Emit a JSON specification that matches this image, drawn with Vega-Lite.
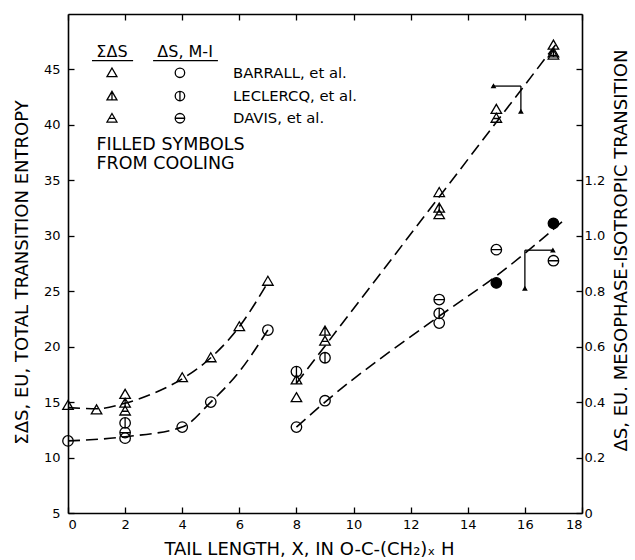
{
  "$schema": "https://vega.github.io/schema/vega-lite/v6.json",
  "width": 514,
  "height": 499,
  "padding": {"left": 13, "top": 13, "right": 2, "bottom": 2},
  "config": {
    "view": {"stroke": null},
    "font": "DejaVu Sans",
    "axis": {
      "grid": false,
      "domainColor": "black",
      "domainWidth": 1.6,
      "tickColor": "black",
      "tickWidth": 1.3,
      "labelColor": "black",
      "titleColor": "black",
      "labelFont": "DejaVu Sans",
      "titleFont": "DejaVu Sans",
      "titleFontWeight": "normal",
      "labelFontSize": 13,
      "titleFontSize": 18
    }
  },
  "datasets": {
    "triPts": [
      {"x": 0, "y": 14.7, "s": "t"},
      {"x": 1, "y": 14.3, "s": "t"},
      {"x": 2, "y": 15.7, "s": "t"},
      {"x": 2, "y": 14.9, "s": "tl"},
      {"x": 2, "y": 14.2, "s": "td"},
      {"x": 4, "y": 17.2, "s": "t"},
      {"x": 5, "y": 19.0, "s": "t"},
      {"x": 6, "y": 21.8, "s": "t"},
      {"x": 7, "y": 25.9, "s": "t"},
      {"x": 8, "y": 15.4, "s": "t"},
      {"x": 8, "y": 17.0, "s": "tl"},
      {"x": 9, "y": 21.4, "s": "tl"},
      {"x": 9, "y": 20.5, "s": "td"},
      {"x": 13, "y": 33.9, "s": "t"},
      {"x": 13, "y": 32.5, "s": "tl"},
      {"x": 13, "y": 31.9, "s": "td"},
      {"x": 15, "y": 41.4, "s": "t"},
      {"x": 15, "y": 40.6, "s": "td"},
      {"x": 17, "y": 47.2, "s": "t"},
      {"x": 17, "y": 46.5, "s": "tl"},
      {"x": 17, "y": 46.3, "s": "td"}
    ],
    "cirPts": [
      {"x": 0, "y": 0.26, "s": "c"},
      {"x": 2, "y": 0.27, "s": "c"},
      {"x": 2, "y": 0.29, "s": "cd"},
      {"x": 2, "y": 0.325, "s": "cl"},
      {"x": 4, "y": 0.31, "s": "c"},
      {"x": 5, "y": 0.40, "s": "c"},
      {"x": 7, "y": 0.66, "s": "c"},
      {"x": 8, "y": 0.31, "s": "c"},
      {"x": 8, "y": 0.51, "s": "cl"},
      {"x": 9, "y": 0.405, "s": "c"},
      {"x": 9, "y": 0.56, "s": "cl"},
      {"x": 13, "y": 0.685, "s": "c"},
      {"x": 13, "y": 0.72, "s": "cl"},
      {"x": 13, "y": 0.77, "s": "cd"},
      {"x": 15, "y": 0.95, "s": "cd"},
      {"x": 15, "y": 0.83, "s": "cf"},
      {"x": 17, "y": 0.91, "s": "cd"},
      {"x": 17, "y": 1.045, "s": "cf"}
    ],
    "triCurves": [
      {"seg": "a", "x": 0, "y": 14.5},
      {"seg": "a", "x": 1, "y": 14.4},
      {"seg": "a", "x": 2, "y": 14.9},
      {"seg": "a", "x": 3, "y": 15.8},
      {"seg": "a", "x": 4, "y": 17.1},
      {"seg": "a", "x": 5, "y": 19.0},
      {"seg": "a", "x": 6, "y": 21.8},
      {"seg": "a", "x": 7, "y": 25.8},
      {"seg": "b", "x": 8, "y": 16.7},
      {"seg": "b", "x": 17.1, "y": 47.3}
    ],
    "cirCurves": [
      {"seg": "a", "x": 0, "y": 0.26},
      {"seg": "a", "x": 2, "y": 0.275},
      {"seg": "a", "x": 4, "y": 0.31},
      {"seg": "a", "x": 5, "y": 0.40},
      {"seg": "a", "x": 6, "y": 0.51},
      {"seg": "a", "x": 7, "y": 0.66},
      {"seg": "b", "x": 8, "y": 0.31},
      {"seg": "b", "x": 9, "y": 0.40},
      {"seg": "b", "x": 13, "y": 0.71},
      {"seg": "b", "x": 15, "y": 0.855},
      {"seg": "b", "x": 17.3, "y": 1.05}
    ]
  },
  "layer": [
    {
      "encoding": {
        "x": {
          "field": "x", "type": "quantitative",
          "scale": {"domain": [0, 18], "nice": false, "zero": false},
          "axis": {
            "orient": "bottom",
            "values": [0, 2, 4, 6, 8, 10, 12, 14, 16, 18],
            "tickSize": -6, "labelPadding": 11,
            "title": "TAIL LENGTH, X, IN O-C-(CH₂)ₓ H",
            "titlePadding": 9,
            "titleX": 241
          }
        },
        "y": {
          "field": "y", "type": "quantitative",
          "scale": {"domain": [5, 50], "nice": false, "zero": false},
          "axis": {
            "orient": "left",
            "values": [5, 10, 15, 20, 25, 30, 35, 40, 45],
            "tickSize": -6, "labelPadding": 14,
            "title": "ΣΔS, EU, TOTAL TRANSITION ENTROPY",
            "titlePadding": 12,
            "titleY": 258
          }
        }
      },
      "layer": [
        {
          "data": {"name": "triCurves"},
          "mark": {"type": "line", "interpolate": "monotone", "color": "black", "strokeWidth": 1.6, "strokeDash": [12, 6]},
          "encoding": {"detail": {"field": "seg"}}
        },
        {
          "data": {"name": "triPts"},
          "mark": {"type": "point", "stroke": "black", "strokeWidth": 1.3, "size": 100, "opacity": 1},
          "encoding": {
            "shape": {
              "field": "s",
              "scale": {
                "domain": ["t", "tl", "td", "c", "cl", "cd", "cf"],
                "range": [
                  "M0,-1L1.05,0.8L-1.05,0.8Z",
                  "M0,-1L1.05,0.8L-1.05,0.8ZM0,-1L0,0.8",
                  "M0,-1L1.05,0.8L-1.05,0.8ZM-0.55,0.05L0.55,0.05",
                  "M-1,0A1,1,0,1,1,1,0A1,1,0,1,1,-1,0Z",
                  "M-1,0A1,1,0,1,1,1,0A1,1,0,1,1,-1,0ZM0,-1L0,1",
                  "M-1,0A1,1,0,1,1,1,0A1,1,0,1,1,-1,0ZM-1,0L1,0",
                  "M-1,0A1,1,0,1,1,1,0A1,1,0,1,1,-1,0Z"
                ]
              },
              "legend": null
            },
            "fill": {"condition": {"test": "datum.s === 'cf'", "value": "black"}, "value": "transparent"}
          }
        },
        {
          "data": {"values": [
            {"x": 1.54, "y": 44.7, "s": "t"},
            {"x": 1.54, "y": 42.6, "s": "tl"},
            {"x": 1.54, "y": 40.6, "s": "td"},
            {"x": 3.92, "y": 44.7, "s": "c"},
            {"x": 3.92, "y": 42.6, "s": "cl"},
            {"x": 3.92, "y": 40.6, "s": "cd"}
          ]},
          "mark": {"type": "point", "stroke": "black", "strokeWidth": 1.3, "size": 90, "opacity": 1},
          "encoding": {
            "shape": {
              "field": "s",
              "scale": {
                "domain": ["t", "tl", "td", "c", "cl", "cd", "cf"],
                "range": [
                  "M0,-1L1.05,0.8L-1.05,0.8Z",
                  "M0,-1L1.05,0.8L-1.05,0.8ZM0,-1L0,0.8",
                  "M0,-1L1.05,0.8L-1.05,0.8ZM-0.55,0.05L0.55,0.05",
                  "M-1,0A1,1,0,1,1,1,0A1,1,0,1,1,-1,0Z",
                  "M-1,0A1,1,0,1,1,1,0A1,1,0,1,1,-1,0ZM0,-1L0,1",
                  "M-1,0A1,1,0,1,1,1,0A1,1,0,1,1,-1,0ZM-1,0L1,0",
                  "M-1,0A1,1,0,1,1,1,0A1,1,0,1,1,-1,0Z"
                ]
              },
              "legend": null
            },
            "fill": {"value": "transparent"}
          }
        },
        {
          "data": {"values": [
            {"x": 1.54, "y": 46.6, "t": "ΣΔS"},
            {"x": 4.1, "y": 46.6, "t": "ΔS, M-I"}
          ]},
          "mark": {"type": "text", "align": "center", "baseline": "middle", "fontSize": 16, "color": "black"},
          "encoding": {"text": {"field": "t"}}
        },
        {
          "data": {"values": [
            {"x": 0.84, "x2": 2.28, "y": 45.8},
            {"x": 2.98, "x2": 5.25, "y": 45.8}
          ]},
          "mark": {"type": "rule", "color": "black", "strokeWidth": 1.2},
          "encoding": {"x2": {"field": "x2"}}
        },
        {
          "data": {"values": [
            {"x": 5.78, "y": 44.6, "t": "BARRALL, et al."},
            {"x": 5.78, "y": 42.5, "t": "LECLERCQ, et al."},
            {"x": 5.78, "y": 40.5, "t": "DAVIS, et al."}
          ]},
          "mark": {"type": "text", "align": "left", "baseline": "middle", "fontSize": 14.8, "color": "black"},
          "encoding": {"text": {"field": "t"}}
        },
        {
          "data": {"values": [
            {"x": 1.0, "y": 38.2, "t": "FILLED SYMBOLS"},
            {"x": 1.0, "y": 36.5, "t": "FROM COOLING"}
          ]},
          "mark": {"type": "text", "align": "left", "baseline": "middle", "fontSize": 17.5, "color": "black"},
          "encoding": {"text": {"field": "t"}}
        },
        {
          "data": {"values": [
            {"x": 14.85, "x2": 15.86, "y": 43.5, "y2": 43.5},
            {"x": 15.86, "x2": 15.86, "y": 43.5, "y2": 41.2}
          ]},
          "mark": {"type": "rule", "color": "black", "strokeWidth": 1.3},
          "encoding": {"x2": {"field": "x2"}, "y2": {"field": "y2"}}
        },
        {
          "data": {"values": [
            {"x": 14.9, "y": 43.5, "d": "l"},
            {"x": 15.86, "y": 41.2, "d": "d"}
          ]},
          "mark": {"type": "point", "filled": true, "color": "black", "size": 30, "opacity": 1},
          "encoding": {
            "shape": {"field": "d", "scale": {"domain": ["l", "d", "r"], "range": ["M-1,0L1,-0.45L1,0.45Z", "M0,1L-0.45,-1L0.45,-1Z", "M1,0L-1,-0.45L-1,0.45Z"]}, "legend": null}
          }
        }
      ]
    },
    {
      "encoding": {
        "x": {
          "field": "x", "type": "quantitative",
          "scale": {"domain": [0, 18], "nice": false, "zero": false},
          "axis": {
            "orient": "top",
            "values": [0, 2, 4, 6, 8, 10, 12, 14, 16, 18],
            "tickSize": -6, "labels": false, "title": null
          }
        },
        "y": {
          "field": "y", "type": "quantitative",
          "scale": {"domain": [0, 1.8], "nice": false, "zero": false},
          "axis": {
            "orient": "right",
            "values": [0, 0.2, 0.4, 0.6, 0.8, 1.0, 1.2, 1.4, 1.6],
            "labelExpr": "datum.value > 1.21 ? '' : (datum.value == 0 ? '0' : format(datum.value, '.1f'))",
            "tickSize": -6, "labelPadding": 8, "labelAlign": "left",
            "title": "ΔS, EU. MESOPHASE-ISOTROPIC TRANSITION",
            "titleAngle": 270,
            "titlePadding": 26,
            "titleY": 236
          }
        }
      },
      "layer": [
        {
          "data": {"name": "cirCurves"},
          "mark": {"type": "line", "interpolate": "monotone", "color": "black", "strokeWidth": 1.6, "strokeDash": [12, 6]},
          "encoding": {"detail": {"field": "seg"}}
        },
        {
          "data": {"name": "cirPts"},
          "mark": {"type": "point", "stroke": "black", "strokeWidth": 1.3, "size": 110, "opacity": 1},
          "encoding": {
            "shape": {
              "field": "s",
              "scale": {
                "domain": ["t", "tl", "td", "c", "cl", "cd", "cf"],
                "range": [
                  "M0,-1L1.05,0.8L-1.05,0.8Z",
                  "M0,-1L1.05,0.8L-1.05,0.8ZM0,-1L0,0.8",
                  "M0,-1L1.05,0.8L-1.05,0.8ZM-0.55,0.05L0.55,0.05",
                  "M-1,0A1,1,0,1,1,1,0A1,1,0,1,1,-1,0Z",
                  "M-1,0A1,1,0,1,1,1,0A1,1,0,1,1,-1,0ZM0,-1L0,1",
                  "M-1,0A1,1,0,1,1,1,0A1,1,0,1,1,-1,0ZM-1,0L1,0",
                  "M-1,0A1,1,0,1,1,1,0A1,1,0,1,1,-1,0Z"
                ]
              },
              "legend": null
            },
            "fill": {"condition": {"test": "datum.s === 'cf'", "value": "black"}, "value": "transparent"}
          }
        },
        {
          "data": {"values": [
            {"x": 16.0, "x2": 17.0, "y": 0.948, "y2": 0.948},
            {"x": 16.0, "x2": 16.0, "y": 0.948, "y2": 0.81}
          ]},
          "mark": {"type": "rule", "color": "black", "strokeWidth": 1.3},
          "encoding": {"x2": {"field": "x2"}, "y2": {"field": "y2"}}
        },
        {
          "data": {"values": [
            {"x": 16.98, "y": 0.948, "d": "r"},
            {"x": 16.0, "y": 0.81, "d": "d"}
          ]},
          "mark": {"type": "point", "filled": true, "color": "black", "size": 30, "opacity": 1},
          "encoding": {
            "shape": {"field": "d", "scale": {"domain": ["l", "d", "r"], "range": ["M-1,0L1,-0.45L1,0.45Z", "M0,1L-0.45,-1L0.45,-1Z", "M1,0L-1,-0.45L-1,0.45Z"]}, "legend": null}
          }
        }
      ]
    }
  ],
  "resolve": {"scale": {"x": "independent", "y": "independent"}}
}
